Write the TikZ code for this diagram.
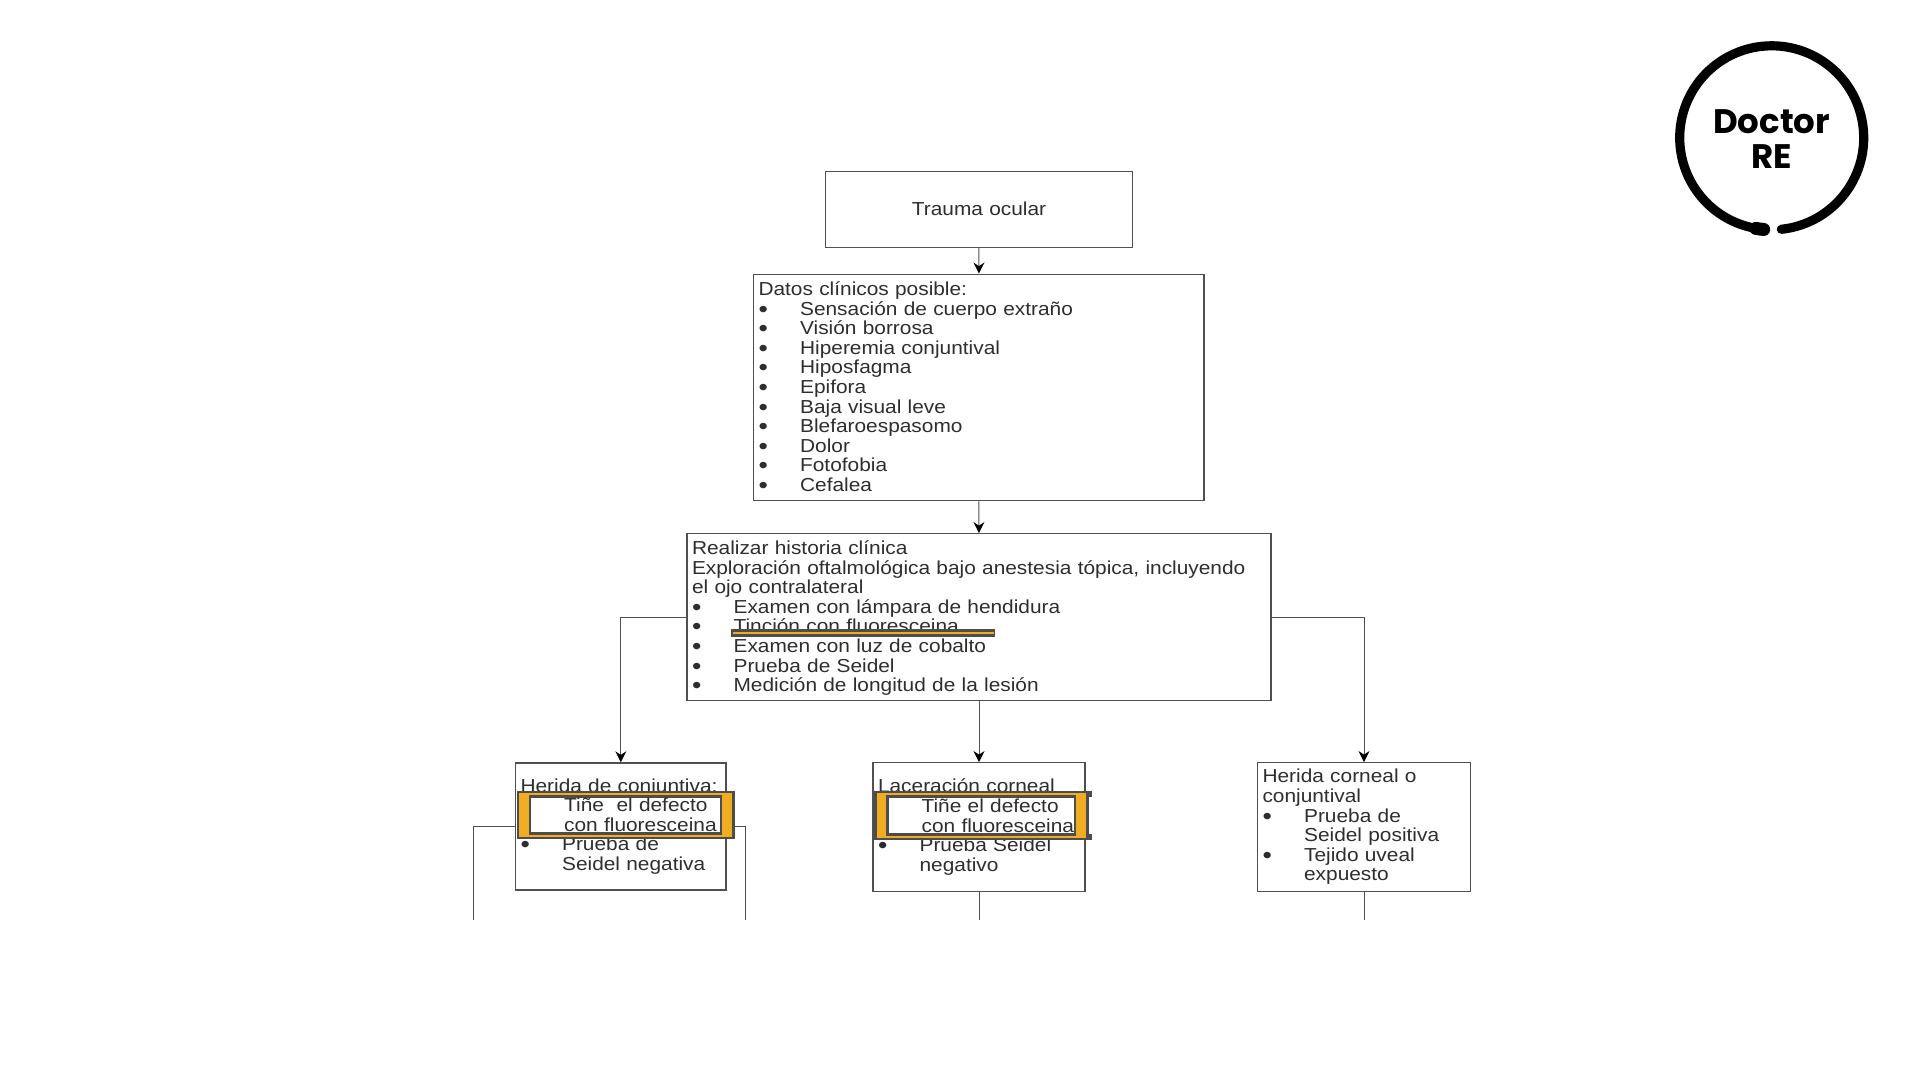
\documentclass[tikz,border=0pt]{standalone}
\usepackage{fontspec}
\setmainfont[FakeStretch=1.11]{Liberation Sans}
\newfontfamily\logofont{Poppins}
\usetikzlibrary{arrows.meta}
\definecolor{ink}{HTML}{2E2E2E}
\definecolor{edge}{HTML}{505050}
\definecolor{hldark}{HTML}{4D4D4D}
\definecolor{hlorange}{HTML}{F0AC23}
\newcommand{\bl}[1]{\makebox[20.8pt][l]{\raisebox{-1pt}{\fontsize{12pt}{9.8pt}\selectfont •}}#1}
\newcommand{\cn}[1]{\hspace*{20.8pt}#1}
\tikzset{
  sz/.style 2 args={minimum width=#1*0.5pt,minimum height=#2*0.5pt,text width=#1*0.5pt-5pt},
  flowbox/.style={draw=edge,line width=0.7pt,fill=white,inner sep=0pt,align=left,text=ink,
    font=\fontsize{9.4pt}{9.8pt}\selectfont},
  conn/.style={draw=edge,line width=0.5pt},
  arr/.style={conn,-{Stealth[length=5.5pt,width=5.5pt,color=black]}},
  hlouter/.style={fill=hldark,inner sep=0pt},
  hlinner/.style={draw=hldark,line width=1.2pt,fill=white,inner sep=0pt,align=left,text=ink,
    font=\fontsize{9.4pt}{9.8pt}\selectfont},
  logotext/.style={font=\logofont\bfseries\fontsize{17pt}{17.5pt}\selectfont,align=center,inner sep=0pt,text=black},
  logoring/.style={draw=black,line width=4.6pt,line cap=round},
  logoblob/.style={draw=black,line width=6.5pt,line cap=round}
}
\newcommand{\hlite}[6]{%
  \node[hlouter,minimum width=#4*0.5pt,minimum height=#5*0.5pt] (#1o) at (#2,#3) {};
  \fill[hlorange] ([shift={(3,2)}]#1o.north west) rectangle ([shift={(-3,-2)}]#1o.south east);
  \node[hlinner,minimum width=#4*0.5pt-13.5pt,minimum height=#5*0.5pt-5.5pt,text width=#4*0.5pt-13.5pt] (#1) at (#2,#3) {#6};
}
\begin{document}
\begin{tikzpicture}[x=0.5pt,y=-0.5pt]
\useasboundingbox (0,0) rectangle (1920,1080);
\fill[white] (0,0) rectangle (1920,1080);
% free ends
\coordinate (cl) at (473.9,919.6);
\coordinate (cr) at (745.7,919.6);
\coordinate (cm) at (979,919.6);
\coordinate (cc) at (1364,919.6);
% boxes
\node[flowbox,sz={307}{76},align=center] (trauma) at (979,209.4) {\raisebox{1.2pt}{Trauma ocular}};
\node[flowbox,sz={450.6}{226.5}] (datos) at (978.8,387.5) {Datos clínicos posible:\\
\bl{Sensación de cuerpo extraño}\\
\bl{Visión borrosa}\\
\bl{Hiperemia conjuntival}\\
\bl{Hiposfagma}\\
\bl{Epifora}\\
\bl{Baja visual leve}\\
\bl{Blefaroespasomo}\\
\bl{Dolor}\\
\bl{Fotofobia}\\
\bl{Cefalea}};
\node[flowbox,sz={584}{166.5}] (real) at (979,617) {\rule{0pt}{8.1pt}Realizar historia clínica\\
Exploración oftalmológica bajo anestesia tópica, incluyendo\\
el ojo contralateral\\
\bl{Examen con lámpara de hendidura}\\
\bl{Tinción con fluoresceina}\\
\bl{Examen con luz de cobalto}\\
\bl{Prueba de Seidel}\\
\bl{Medición de longitud de la lesión}};
\node[flowbox,sz={210.6}{127}] (herida) at (620.8,826.5) {Herida de conjuntiva:\\ \strut\\ \strut\\
\bl{Prueba de}\\
\cn{Seidel negativa}};
\node[flowbox,sz={212}{128.5}] (lacer) at (979,827) {Laceración corneal\\ \strut\\ \strut\\
\bl{Prueba Seidel}\\
\cn{negativo}};
\node[flowbox,sz={213}{128.5}] (corneal) at (1364,827) {Herida corneal o\\
conjuntival\\
\bl{Prueba de}\\
\cn{Seidel positiva}\\
\bl{Tejido uveal}\\
\cn{expuesto}};
% connectors
\draw[arr] (trauma) -- (datos);
\draw[arr] (datos) -- (real);
\draw[arr] (real.west) -| (herida.north);
\draw[arr] (real) -- (lacer);
\draw[arr] (real.east) -| (corneal.north);
\draw[conn] (herida.west) -| (cl);
\draw[conn] (herida.east) -| (cr);
\draw[conn] (lacer) -- (cm);
\draw[conn] (corneal) -- (cc);
% highlights
\hlite{hA}{625.7}{815}{218}{48}{\hspace*{17pt}Tiñe\ \ el defecto\\\hspace*{17pt}con fluoresceina}
\hlite{hB}{981.4}{815.5}{214.6}{49}{\hspace*{17pt}Tiñe el defecto\\\hspace*{17pt}con fluoresceina}
\fill[hldark] (hBo.north east) rectangle ([shift={(3,6)}]hBo.north east);
\fill[hldark] ([shift={(0,-6)}]hBo.south east) rectangle ([shift={(3,0)}]hBo.south east);
\node[hlouter,minimum width=132pt,minimum height=3.7pt] (ulo) at (863.3,633) {};
\fill[hlorange] ([shift={(2,2.8)}]ulo.north west) rectangle ([shift={(-2,-2.8)}]ulo.south east);
% logo
\node[logotext] (logo) at (1771.7,139.5) {Doctor\\RE};
\draw[logoring] (1771.7,137.8) ++(84:92) arc[start angle=84,end angle=-262,radius=92];
\draw[logoblob] (1771.7,137.8) ++(95:92) arc[start angle=95,end angle=100,radius=92];
\end{tikzpicture}
\end{document}
